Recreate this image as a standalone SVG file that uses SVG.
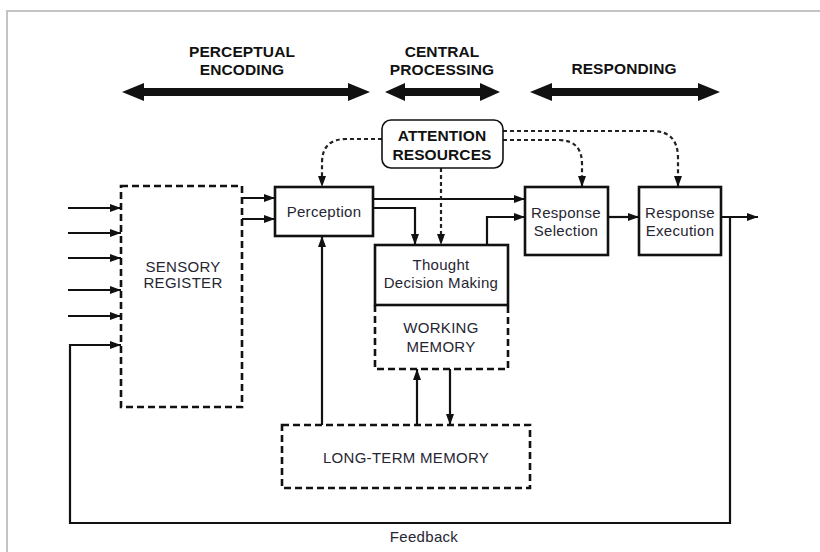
<svg xmlns="http://www.w3.org/2000/svg" width="820" height="552" viewBox="0 0 820 552">
<defs>
<marker id="ah" markerUnits="userSpaceOnUse" markerWidth="11" markerHeight="8" refX="11" refY="4" orient="auto"><path d="M0,0 L11,4 L0,8 z" fill="#111"/></marker>
<style>
.t{font-family:"Liberation Sans",Arial,sans-serif;font-size:15px;fill:#262633;text-anchor:middle;letter-spacing:0.3px}
.h{font-family:"Liberation Sans",Arial,sans-serif;font-size:15.5px;font-weight:bold;fill:#111;text-anchor:middle;letter-spacing:0.1px}
.box{fill:#fff;stroke:#111;stroke-width:2.6}
.dbox{fill:none;stroke:#111;stroke-width:2.6;stroke-dasharray:7,4}
.c{fill:none;stroke:#111;stroke-width:2.2;marker-end:url(#ah)}
.d{fill:none;stroke:#222;stroke-width:2.2;stroke-dasharray:4,3;marker-end:url(#ah)}
.big{fill:#111}
</style>
</defs>
<rect width="820" height="552" fill="#fff"/>
<path d="M7,552 V11 H820" fill="none" stroke="#c4c4c4" stroke-width="2"/>

<g id="phases">
<text class="h" x="242" y="57">PERCEPTUAL</text>
<text class="h" x="242" y="75">ENCODING</text>
<text class="h" x="442" y="57">CENTRAL</text>
<text class="h" x="442" y="75">PROCESSING</text>
<text class="h" x="624" y="74">RESPONDING</text>
<polygon class="big" points="122,92 144,83 144,88 348,88 348,83 370,92 348,101 348,96 144,96 144,101"/>
<polygon class="big" points="385,92 405,83 405,88 480,88 480,83 500,92 480,101 480,96 405,96 405,101"/>
<polygon class="big" points="530,92 552,83 552,88 698,88 698,83 720,92 698,101 698,96 552,96 552,101"/>
</g>

<g id="connectors">
<line class="c" x1="68" y1="208" x2="121" y2="208"/>
<line class="c" x1="68" y1="233" x2="121" y2="233"/>
<line class="c" x1="68" y1="258" x2="121" y2="258"/>
<line class="c" x1="68" y1="290" x2="121" y2="290"/>
<line class="c" x1="68" y1="316" x2="121" y2="316"/>
<path class="c" d="M730,217 V523 H70 V345 H121"/>
<path class="c" d="M242,198 H275"/>
<path class="c" d="M242,219 H275"/>
<path class="c" d="M373,199 H525"/>
<path class="c" d="M373,208 H415 V245"/>
<path class="c" d="M487,245 V217 H525"/>
<path class="c" d="M608,217 H639"/>
<path class="c" d="M721,217 H758"/>
<path class="c" d="M322,425 V236"/>
<path class="c" d="M417,425 V369"/>
<path class="c" d="M450,369 V425"/>
<path class="d" d="M441,168 V245" stroke-width="2.6"/>
<path class="d" d="M382,139 H346 Q322,139 322,163 V187"/>
<path class="d" d="M503,140 H558 Q582,140 582,164 V187"/>
<path class="d" d="M503,131 H652 Q678,131 678,158 V187"/>
</g>

<g id="sensory-register">
<rect class="dbox" x="121" y="186" width="121" height="221"/>
<text class="t" x="183" y="272">SENSORY</text>
<text class="t" x="183" y="288">REGISTER</text>
</g>

<g id="attention-resources">
<rect x="382" y="120" width="121" height="48" rx="9" fill="#fff" stroke="#111" stroke-width="1.6"/>
<text class="h" x="442" y="141">ATTENTION</text>
<text class="h" x="442" y="160">RESOURCES</text>
</g>

<g id="perception">
<rect class="box" x="275" y="187" width="98" height="49"/>
<text class="t" x="324" y="217">Perception</text>
</g>

<g id="thought">
<rect class="box" x="375" y="245" width="133" height="60"/>
<text class="t" x="441" y="270">Thought</text>
<text class="t" x="441" y="288">Decision Making</text>
</g>

<g id="working-memory">
<path class="dbox" d="M375,305 V369 H508 V305"/>
<text class="t" x="441" y="333">WORKING</text>
<text class="t" x="441" y="352">MEMORY</text>
</g>

<g id="response-selection">
<rect class="box" x="525" y="187" width="83" height="68"/>
<text class="t" x="566" y="218">Response</text>
<text class="t" x="566" y="236">Selection</text>
</g>

<g id="response-execution">
<rect class="box" x="639" y="187" width="82" height="68"/>
<text class="t" x="680" y="218">Response</text>
<text class="t" x="680" y="236">Execution</text>
</g>

<g id="long-term-memory">
<rect class="dbox" x="282" y="425" width="248" height="63"/>
<text class="t" x="406" y="463">LONG-TERM MEMORY</text>
</g>

<text class="t" x="424" y="542" font-size="13">Feedback</text>
</svg>
